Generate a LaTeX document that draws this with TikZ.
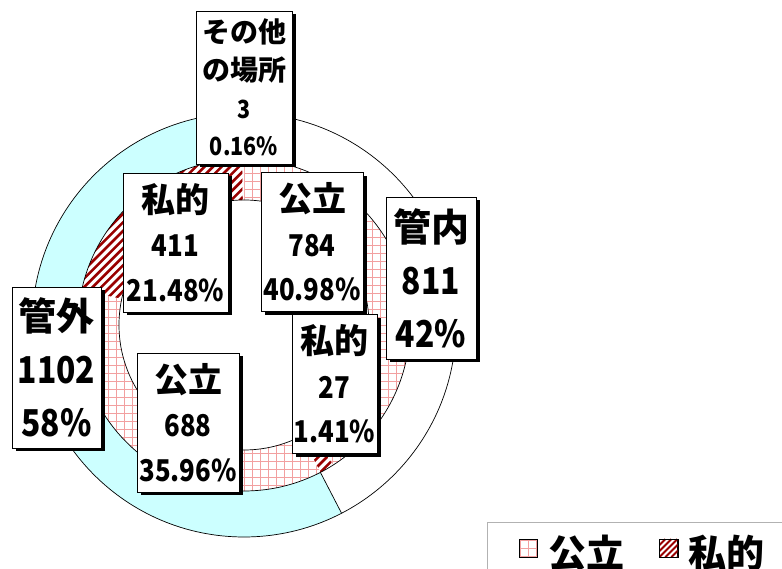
\documentclass[tikz,border=0pt]{standalone}
\usepackage{fontspec}
\setmainfont{Noto Sans CJK JP}[FakeStretch=0.86]
\newfontfamily\kjfont{Noto Sans CJK JP}
\usetikzlibrary{shadows}

\definecolor{ringcyan}{HTML}{CCFFFF}
\definecolor{hatchred}{HTML}{990000}
\definecolor{gridpink}{HTML}{F2A0A0}

\tikzset{lbl/.style={draw, fill=white, line width=0.8pt, align=center, inner sep=0pt,
  drop shadow={shadow xshift=3.5pt, shadow yshift=-3.5pt, fill=black, opacity=1}}}
\tikzset{lblS/.style={lbl, font=\fontsize{25}{37.6}\selectfont\bfseries}}
\tikzset{lblM/.style={lbl, minimum height=139pt, font=\fontsize{30}{44.5}\selectfont\bfseries}}
\tikzset{lblL/.style={lbl, minimum width=90pt, minimum height=162pt, font=\fontsize{37}{53}\selectfont\bfseries}}
\tikzset{gridline/.style={gridpink, line width=0.65pt}}
\tikzset{hatchline/.style={hatchred, line width=2.6pt}}
\tikzset{key/.style={draw, minimum size=18pt, inner sep=0pt}}

% kanji line, a bit larger than the figures
\newcommand{\kj}[2]{{\kjfont\bfseries\fontsize{#1}{0}\selectfont #2}}
% outline of one piece of a ring: from, to, inner radius, outer radius
\newcommand{\ringpath}[4]{([shift={(#1:#4)}]c) arc[start angle=#1, end angle=#2, radius=#4]
    -- ([shift={(#2:#3)}]c) arc[start angle=#2, end angle=#1, radius=#3] -- cycle}
% grid (公立) and stripes (私的) inside a piece of the inner ring
\newcommand{\gridpart}[2]{\begin{scope}
  \clip \ringpath{#1}{#2}{125}{166};
  \fill[white] (c) circle[radius=170];
  \foreach \k in {-21,...,21}{
    \draw[gridline] ([shift={(\k*8,-170)}]c) -- ++(0,340);
    \draw[gridline] ([shift={(-170,\k*8)}]c) -- ++(340,0);}
  \end{scope}}
\newcommand{\hatchpart}[2]{\begin{scope}
  \clip \ringpath{#1}{#2}{125}{166};
  \fill[white] (c) circle[radius=170];
  \foreach \k in {-45,...,45}
    \draw[hatchline] ([shift={(\k*8.6-200,-200)}]c) -- ++(400,400);
  \end{scope}}

\begin{document}
\begin{tikzpicture}[x=1pt,y=1pt]
\useasboundingbox (0,0) rectangle (782,569);
\coordinate (c) at (244,244);

% outer ring
\fill[white] \ringpath{90}{-62.6}{166}{212};
\fill[ringcyan] \ringpath{-62.6}{-270}{166}{212};
% inner ring
\gridpart{90}{-57.54}
\hatchpart{-57.54}{-62.62}
\gridpart{-62.62}{-192.09}
\hatchpart{-192.09}{-269.44}
\fill[white] \ringpath{-269.44}{-270}{125}{166};

\draw[line width=0.7pt] (c) circle[radius=212] (c) circle[radius=166] (c) circle[radius=125];
\draw[line width=0.7pt] ([shift={(-62.6:166)}]c) -- ([shift={(-62.6:212)}]c);
\draw[line width=0.7pt] ([shift={(90:166)}]c) -- ([shift={(90:212)}]c);

\node[lblS, minimum width=96pt, minimum height=153pt] (other) at (244,481.5)
  {\kj{28}{その他}\\\kj{28}{の場所}\\3\\0.16\%};
\node[lblM, minimum width=105pt] (priv1) at (175.5,326.5) {\kj{34}{私的}\\411\\21.48\%};
\node[lblM, minimum width=102pt] (pub1) at (312,327) {\kj{34}{公立}\\784\\40.98\%};
\node[lblM, minimum width=85pt] (priv2) at (334.5,185) {\kj{34}{私的}\\27\\1.41\%};
\node[lblM, minimum width=102pt] (pub2) at (188,146.5) {\kj{34}{公立}\\688\\35.96\%};
\node[lblL] (inside) at (431,291) {\kj{38}{管内}\\811\\42\%};
\node[lblL, minimum width=89pt, minimum height=161pt] (outside) at (56.5,201.5) {\kj{38}{管外}\\1102\\58\%};

% legend
\draw[gray!60, line width=0.8pt] (487,-5) -- (487,47) -- (790,47);
\node[key] (keypub) at (528,21) {};
\node[key] (keypriv) at (668.5,21) {};
\begin{scope}
  \clip (keypub.south west) rectangle (keypub.north east);
  \foreach \k in {-1,0,1}{
    \draw[gridline] ([xshift=\k*8pt]keypub.south) -- ([xshift=\k*8pt]keypub.north);
    \draw[gridline] ([yshift=\k*8pt]keypub.west) -- ([yshift=\k*8pt]keypub.east);}
\end{scope}
\begin{scope}
  \clip (keypriv.south west) rectangle (keypriv.north east);
  \foreach \k in {-3,...,3}
    \draw[hatchline, line width=2pt] ([xshift=\k*6pt]keypriv.south west) -- ++(18,18);
\end{scope}
\draw (keypub.south west) rectangle (keypub.north east);
\draw (keypriv.south west) rectangle (keypriv.north east);
\node[anchor=base, font=\kjfont\fontsize{38}{40}\selectfont\bfseries] (legpub) at (586.5,1) {公立};
\node[anchor=base, font=\kjfont\fontsize{38}{40}\selectfont\bfseries] (legpriv) at (726,1) {私的};
\end{tikzpicture}
\end{document}
